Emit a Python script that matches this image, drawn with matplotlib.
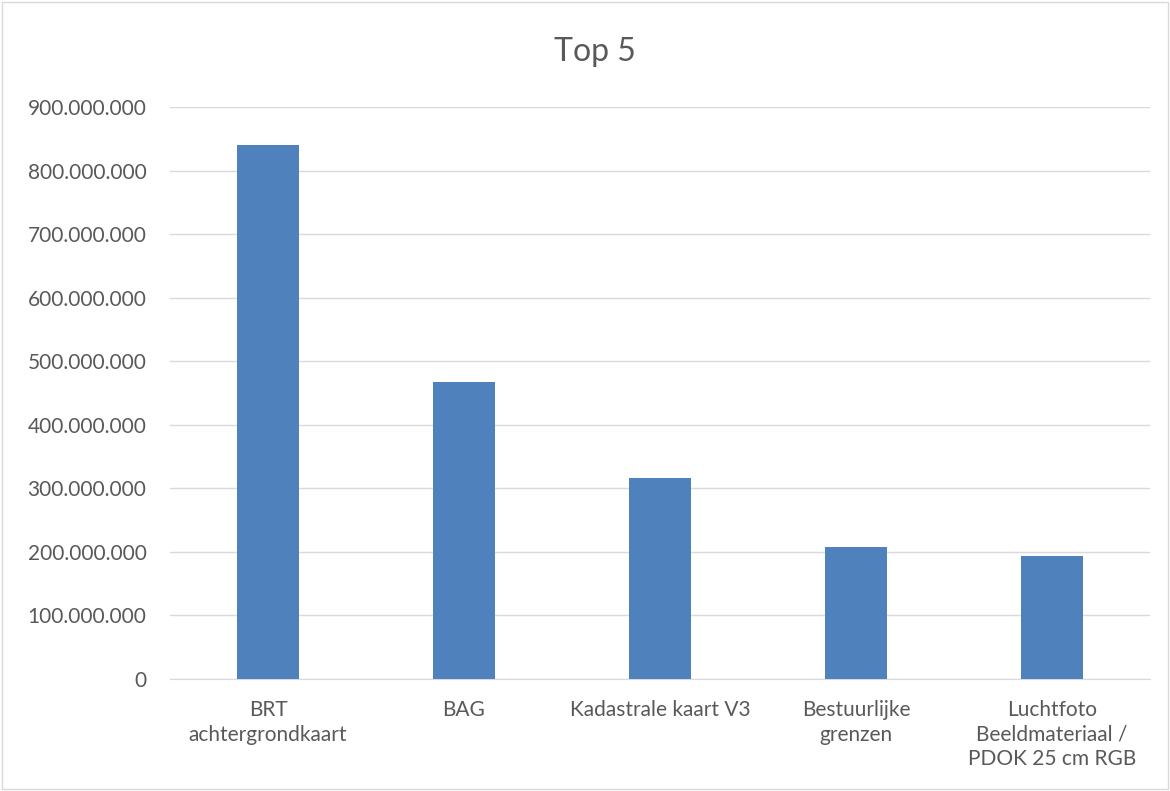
import matplotlib.pyplot as plt
from matplotlib.ticker import FuncFormatter
from matplotlib.patches import Rectangle

categories = ['BRT\nachtergrondkaart', 'BAG', 'Kadastrale kaart V3',
              'Bestuurlijke\ngrenzen', 'Luchtfoto\nBeeldmateriaal /\nPDOK 25 cm RGB']
values = [840000000, 467000000, 316000000, 208000000, 193000000]
yticks = list(range(0, 900000001, 100000000))

plt.rcParams['font.family'] = ['Lato', 'DejaVu Sans']

fig = plt.figure(figsize=(11.7, 7.91), dpi=100)
ax = fig.add_axes([170 / 1170, 1 - 679 / 791, 980 / 1170, 572 / 791])

x = range(len(categories))
ax.bar(x, values, width=0.32, color='#4F81BD', zorder=3)

ax.set_xlim(-0.5, len(categories) - 0.5)
ax.set_ylim(0, 900000000)
ax.set_yticks(yticks)
ax.yaxis.set_major_formatter(FuncFormatter(lambda v, p: f'{int(v):,}'.replace(',', '.')))
ax.set_xticks(list(x))
ax.set_xticklabels(categories, va='top', linespacing=1.3)
ax.grid(axis='y', color='#D9D9D9', lw=1, zorder=0)
for s in ['top', 'right', 'left']:
    ax.spines[s].set_visible(False)
ax.spines['bottom'].set_color('#D9D9D9')
ax.tick_params(axis='both', length=0, labelsize=15, colors='#595959')
ax.tick_params(axis='y', pad=17)
ax.tick_params(axis='x', pad=15)

fig.text(595 / 1170, 1 - 52 / 791, 'Top 5', ha='center', va='center',
         fontsize=23, color='#595959')

fig.patches.append(Rectangle((0.002, 0.002), 0.996, 0.996, transform=fig.transFigure,
                             fill=False, edgecolor='#D9D9D9', lw=1))

fig.savefig('out.png', dpi=100)
